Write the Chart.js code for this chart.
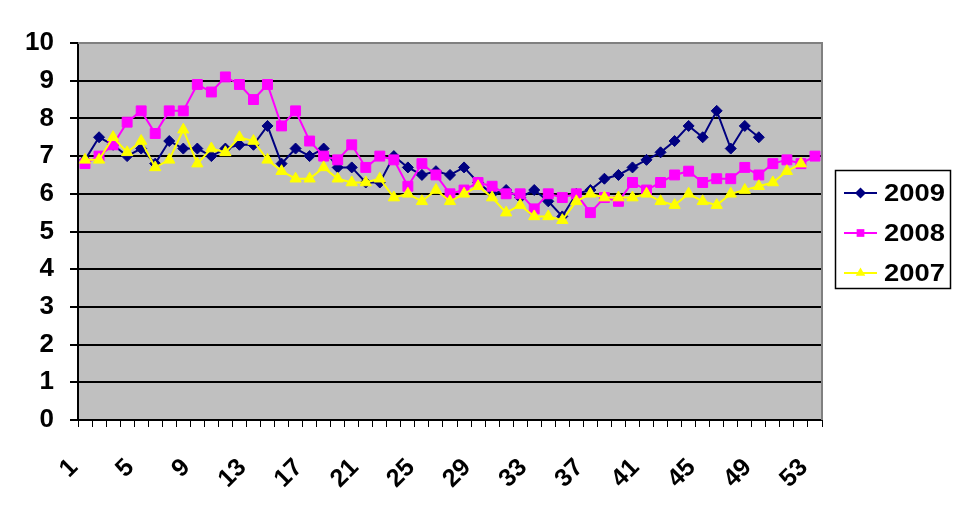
<!DOCTYPE html>
<html>
<head>
<meta charset="utf-8">
<script src="https://cdn.jsdelivr.net/npm/chart.js@4.4.1/dist/chart.umd.min.js"></script>
<style>
  body { margin: 0; background: #fff; }
  #caixa { width: 969px; height: 519px; position: relative; }
</style>
</head>
<body>
<div id="caixa"><canvas id="grafico"></canvas></div>
<script>
const semanas = ["1","2","3","4","5","6","7","8","9","10","11","12","13","14","15","16","17","18",
  "19","20","21","22","23","24","25","26","27","28","29","30","31","32","33","34","35","36",
  "37","38","39","40","41","42","43","44","45","46","47","48","49","50","51","52","53"];
const rotulosX = ["1","5","9","13","17","21","25","29","33","37","41","45","49","53"];

const valores2009 = [6.9,7.5,7.3,7.0,7.2,6.8,7.4,7.2,7.2,7.0,
  7.2,7.3,7.3,7.8,6.8,7.2,7.0,7.2,6.7,6.7,
  6.3,6.3,7.0,6.7,6.5,6.6,6.5,6.7,6.3,6.0,
  6.1,5.9,6.1,5.8,5.4,6.0,6.1,6.4,6.5,6.7,
  6.9,7.1,7.4,7.8,7.5,8.2,7.2,7.8,7.5];
const valores2008 = [6.8,7.0,7.3,7.9,8.2,7.6,8.2,8.2,8.9,8.7,
  9.1,8.9,8.5,8.9,7.8,8.2,7.4,7.0,6.9,7.3,
  6.7,7.0,6.9,6.2,6.8,6.5,6.0,6.1,6.3,6.2,
  6.0,6.0,5.6,6.0,5.9,6.0,5.5,5.9,5.8,6.3,
  6.1,6.3,6.5,6.6,6.3,6.4,6.4,6.7,6.5,6.8,
  6.9,6.8,7.0];
const valores2007 = [6.9,6.9,7.5,7.1,7.4,6.7,6.9,7.7,6.8,7.2,
  7.1,7.5,7.4,6.9,6.6,6.4,6.4,6.7,6.4,6.3,
  6.3,6.4,5.9,6.0,5.8,6.1,5.8,6.0,6.2,5.9,
  5.5,5.7,5.4,5.4,5.3,5.8,6.0,5.9,5.9,5.9,
  6.0,5.8,5.7,6.0,5.8,5.7,6.0,6.1,6.2,6.3,
  6.6,6.8];

const fonte = "'Liberation Sans', Arial, sans-serif";

// fundo cinza da area do grafico + moldura
const fundo = {
  id: "fundo",
  beforeDraw(chart) {
    const { ctx, chartArea: a } = chart;
    ctx.save();
    ctx.fillStyle = "#c0c0c0";
    ctx.fillRect(a.left, a.top, a.right - a.left, a.bottom - a.top);
    ctx.restore();
  },
  beforeDatasetsDraw(chart) {
    const { ctx, chartArea: a } = chart;
    ctx.save();
    ctx.strokeStyle = "#808080";
    ctx.lineWidth = 2;
    ctx.beginPath();
    ctx.moveTo(a.left, a.top);
    ctx.lineTo(a.right, a.top);
    ctx.lineTo(a.right, a.bottom);
    ctx.stroke();
    ctx.restore();
  }
};

function marcador(ctx, estilo, x, y, r) {
  ctx.beginPath();
  if (estilo === "rectRot") {
    ctx.moveTo(x - r, y); ctx.lineTo(x, y - r); ctx.lineTo(x + r, y); ctx.lineTo(x, y + r);
  } else if (estilo === "rect") {
    ctx.rect(x - r * 0.7, y - r * 0.7, r * 1.4, r * 1.4);
  } else {
    ctx.moveTo(x, y - r); ctx.lineTo(x + r * 0.87, y + r * 0.5); ctx.lineTo(x - r * 0.87, y + r * 0.5);
  }
  ctx.closePath();
  ctx.fill();
}

const legenda = {
  id: "legenda",
  afterDraw(chart) {
    const ctx = chart.ctx;
    ctx.save();
    ctx.strokeStyle = "#000";
    ctx.lineWidth = 1.5;
    ctx.strokeRect(835.5, 170.5, 115, 118);
    ctx.font = "bold 24px " + fonte;
    ctx.textBaseline = "middle";
    chart.data.datasets.forEach((ds, i) => {
      const y = 193 + 40 * i;
      ctx.strokeStyle = ds.borderColor;
      ctx.fillStyle = ds.borderColor;
      ctx.lineWidth = 2;
      ctx.beginPath();
      ctx.moveTo(844, y);
      ctx.lineTo(877, y);
      ctx.stroke();
      marcador(ctx, ds.pointStyle, 860.5, y, 5.5);
      // texto um pouco esticado na horizontal, como no original
      ctx.save();
      ctx.translate(884, y + 1);
      ctx.scale(1.14, 1);
      ctx.fillStyle = "#000";
      ctx.fillText(ds.label, 0, 0);
      ctx.restore();
    });
    ctx.restore();
  }
};

new Chart(document.getElementById("grafico"), {
  type: "line",
  data: {
    labels: semanas,
    datasets: [
      { label: "2009", data: valores2009, borderColor: "#000080", backgroundColor: "#000080",
        pointStyle: "rectRot", pointRadius: 5.5, order: 3 },
      { label: "2008", data: valores2008, borderColor: "#ff00ff", backgroundColor: "#ff00ff",
        pointStyle: "rect", pointRadius: 7, order: 2 },
      { label: "2007", data: valores2007, borderColor: "#ffff00", backgroundColor: "#ffff00",
        pointStyle: "triangle", pointRadius: 6.5, order: 1 }
    ]
  },
  options: {
    responsive: true,
    maintainAspectRatio: false,
    devicePixelRatio: 1,
    animation: false,
    layout: { padding: { left: 0, top: 43, right: 147, bottom: 0 } },
    elements: {
      line: { borderWidth: 2, tension: 0 },
      point: { borderWidth: 1 }
    },
    plugins: {
      legend: { display: false },
      tooltip: { enabled: false }
    },
    scales: {
      x: {
        type: "category",
        offset: true,
        grid: { offset: true, drawOnChartArea: false, tickLength: 7, color: "#000", lineWidth: 1 },
        border: { color: "#000", width: 2 },
        ticks: {
          autoSkip: false,
          minRotation: 45,
          maxRotation: 45,
          padding: 26,
          labelOffset: -11,
          color: "#000",
          font: { family: fonte, size: 25, weight: "bold" },
          callback: function (v) {
            const l = this.getLabelForValue(v);
            return rotulosX.includes(l) ? l : "";
          }
        },
        afterFit(scale) { scale.height = 99; }
      },
      y: {
        min: 0,
        max: 10,
        grid: {
          color: (c) => (c.tick && c.tick.value === 10 ? "#808080" : "#000"),
          tickColor: "#000",
          lineWidth: 2,
          tickLength: 8
        },
        border: { color: "#000", width: 2 },
        ticks: {
          stepSize: 1,
          padding: 16,
          color: "#000",
          font: { family: fonte, size: 26, weight: "bold" }
        },
        afterFit(scale) { scale.width = 78; }
      }
    }
  },
  plugins: [fundo, legenda]
});
</script>
</body>
</html>
